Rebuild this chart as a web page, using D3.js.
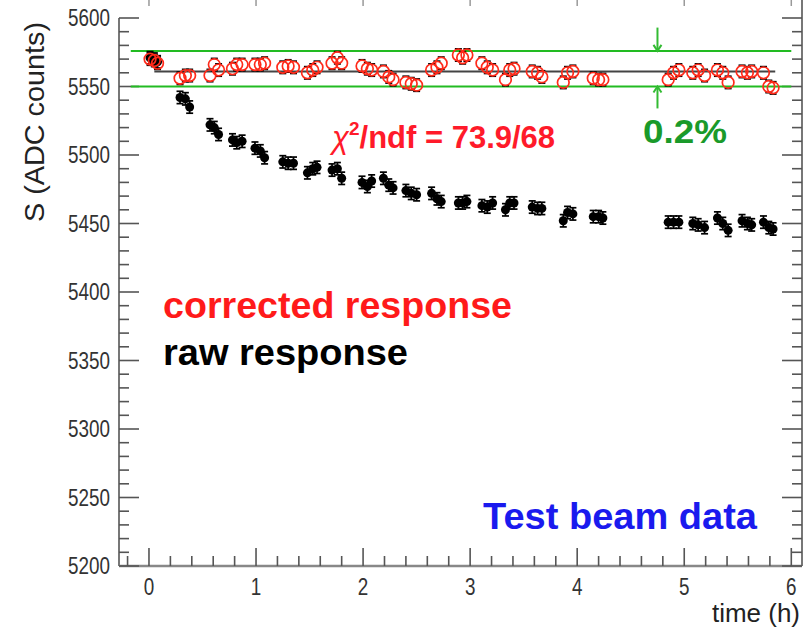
<!DOCTYPE html>
<html>
<head>
<meta charset="utf-8">
<script src="https://cdn.jsdelivr.net/npm/d3@7/dist/d3.min.js"></script>
<style>
  body { margin: 0; background: #fff; }
  text { font-family: "Liberation Sans", Arial, Helvetica, sans-serif; }
</style>
</head>
<body>
<svg id="chart" width="803" height="631"></svg>
<script>
// ---- data ----
var times = [
  0.01, 0.05, 0.08,  0.29, 0.34, 0.38,  0.57, 0.61, 0.65,  0.78, 0.82, 0.87,
  0.99, 1.04, 1.08,  1.25, 1.30, 1.35,  1.48, 1.53, 1.57,  1.71, 1.76, 1.80,
  1.99, 2.04, 2.08,  2.19, 2.24, 2.28,  2.40, 2.45, 2.50,  2.64, 2.69, 2.73,
  2.89, 2.93, 2.97,  3.11, 3.16, 3.21,  3.33, 3.37, 3.41,  3.58, 3.63, 3.67,
  3.87, 3.91, 3.96,  4.15, 4.20, 4.24,  4.85, 4.90, 4.95,  5.08, 5.13, 5.19,
  5.31, 5.36, 5.41,  5.54, 5.59, 5.63,  5.74, 5.79, 5.83
];
var rawValues = [
  5571, 5570, 5568,  5542, 5541, 5535,  5522, 5520, 5515,  5511, 5509, 5510,
  5505, 5503, 5498,  5495, 5494, 5494,  5487, 5490, 5491,  5489, 5490, 5483,
  5480, 5477, 5481,  5483, 5478, 5476,  5474, 5472, 5471,  5472, 5468, 5466,
  5465, 5465, 5466,  5463, 5462, 5465,  5460, 5465, 5465,  5462, 5461, 5461,
  5452, 5458, 5457,  5455, 5455, 5454,  5451, 5451, 5451,  5450, 5449, 5447,
  5454, 5450, 5445,  5452, 5450, 5449,  5451, 5447, 5446
];
var correctedValues = [
  5570, 5569, 5567,  5556, 5558, 5558,  5558, 5566, 5562,  5563, 5566, 5566,
  5566, 5566, 5567,  5564, 5565, 5564,  5560, 5562, 5564,  5567, 5571, 5567,
  5565, 5563, 5562,  5561, 5557, 5555,  5553, 5552, 5551,  5562, 5564, 5567,
  5573, 5571, 5573,  5567, 5564, 5562,  5555, 5562, 5563,  5561, 5560, 5557,
  5553, 5560, 5561,  5556, 5555, 5555,  5555, 5560, 5562,  5560, 5562, 5558,
  5562, 5560, 5553,  5561, 5560, 5561,  5560, 5550, 5549
];
var errorSize = 4.5;
var xTicks = [0, 1, 2, 3, 4, 5, 6];
var yTicks = [5200, 5250, 5300, 5350, 5400, 5450, 5500, 5550, 5600];
var bandLevels = [5576, 5550];
var fitLevel = 5561;
var fitRange = [0.05, 5.85];
var bandRange = [-0.17, 6.0];
var arrowTime = 4.75;
var arrowsFromTo = [[5593, 5576], [5534, 5550]];

/* ---- layout ---- */
var svg = d3.select('#chart');
var plotLeft = 119, plotRight = 802, plotTop = 18, plotBottom = 566;
var x = d3.scaleLinear().domain([-0.28, 6.1]).range([plotLeft, plotRight]);
var y = d3.scaleLinear().domain([5200, 5600]).range([plotBottom, plotTop]);

var rawData = times.map(function(t, i) { return { t: t, v: rawValues[i] }; });
var corrData = times.map(function(t, i) { return { t: t, v: correctedValues[i] }; });

var axisColor = '#555';

// axis lines
svg.append('line').attr('x1', plotLeft).attr('x2', plotLeft).attr('y1', plotTop).attr('y2', plotBottom)
  .attr('stroke', '#777').attr('stroke-width', 2);
svg.append('line').attr('x1', plotLeft).attr('x2', plotRight).attr('y1', plotBottom).attr('y2', plotBottom)
  .attr('stroke', '#888').attr('stroke-width', 2.5);
svg.append('line').attr('x1', plotRight).attr('x2', plotRight).attr('y1', 0).attr('y2', plotBottom)
  .attr('stroke', '#777').attr('stroke-width', 2);

// y ticks (left and right)
var yMinor = d3.range(5200, 5601, 10).filter(function(v) { return v % 50 !== 0; });
var tickG = svg.append('g').attr('stroke', axisColor).attr('stroke-width', 1.6);
tickG.selectAll('.ymaj').data(yTicks).enter().append('line')
  .attr('x1', plotLeft).attr('x2', plotLeft + 20)
  .attr('y1', function(d) { return y(d); }).attr('y2', function(d) { return y(d); });
tickG.selectAll('.ymin').data(yMinor).enter().append('line')
  .attr('x1', plotLeft).attr('x2', plotLeft + 10)
  .attr('y1', function(d) { return y(d); }).attr('y2', function(d) { return y(d); });
tickG.selectAll('.ymajr').data(yTicks).enter().append('line')
  .attr('x1', plotRight).attr('x2', plotRight - 20)
  .attr('y1', function(d) { return y(d); }).attr('y2', function(d) { return y(d); });
tickG.selectAll('.yminr').data(yMinor).enter().append('line')
  .attr('x1', plotRight).attr('x2', plotRight - 10)
  .attr('y1', function(d) { return y(d); }).attr('y2', function(d) { return y(d); });

// x ticks
var xMinor = d3.range(-0.2, 6.05, 0.2).filter(function(v) { return Math.abs(v - Math.round(v)) > 0.01; });
tickG.selectAll('.xmaj').data(xTicks).enter().append('line')
  .attr('x1', function(d) { return x(d); }).attr('x2', function(d) { return x(d); })
  .attr('y1', plotBottom).attr('y2', plotBottom - 18);
tickG.selectAll('.xmin').data(xMinor).enter().append('line')
  .attr('x1', function(d) { return x(d); }).attr('x2', function(d) { return x(d); })
  .attr('y1', plotBottom).attr('y2', plotBottom - 10);
svg.append('g').attr('stroke', '#999').attr('stroke-width', 1.5)
  .selectAll('line').data(xTicks).enter().append('line')
  .attr('x1', function(d) { return x(d); }).attr('x2', function(d) { return x(d); })
  .attr('y1', 0).attr('y2', 6);

// tick labels (tall, narrow look of the original)
svg.append('g').selectAll('text').data(yTicks).enter().append('text')
  .attr('transform', function(d) { return 'translate(110,' + (y(d) + 8) + ') scale(0.82,1)'; })
  .attr('text-anchor', 'end').attr('font-size', 23).attr('fill', '#333')
  .text(function(d) { return d; });
svg.append('g').selectAll('text').data(xTicks).enter().append('text')
  .attr('transform', function(d) { return 'translate(' + x(d) + ',595) scale(0.82,1)'; })
  .attr('text-anchor', 'middle').attr('font-size', 23).attr('fill', '#333')
  .text(function(d) { return d; });

// axis titles
svg.append('text').attr('transform', 'translate(44,222) rotate(-90)')
  .attr('font-size', 28).attr('fill', '#222')
  .attr('textLength', 200).attr('lengthAdjust', 'spacingAndGlyphs')
  .text('S (ADC counts)');
svg.append('text').attr('x', 800).attr('y', 622).attr('text-anchor', 'end')
  .attr('font-size', 26).attr('fill', '#222')
  .attr('textLength', 88).attr('lengthAdjust', 'spacingAndGlyphs')
  .text('time (h)');

/* ---- band and fit lines ---- */
svg.append('g').selectAll('line').data(bandLevels).enter().append('line')
  .attr('x1', x(bandRange[0])).attr('x2', x(bandRange[1]))
  .attr('y1', function(d) { return y(d); }).attr('y2', function(d) { return y(d); })
  .attr('stroke', '#22bb22').attr('stroke-width', 2);
svg.append('line')
  .attr('x1', x(fitRange[0])).attr('x2', x(fitRange[1]))
  .attr('y1', y(fitLevel)).attr('y2', y(fitLevel))
  .attr('stroke', '#444').attr('stroke-width', 2);

// arrows
var arrowG = svg.append('g').attr('stroke', '#33bb33').attr('stroke-width', 2).attr('fill', 'none');
arrowsFromTo.forEach(function(a) {
  var ax = x(arrowTime), y0 = y(a[0]), y1 = y(a[1]);
  var dir = y1 > y0 ? -1 : 1;
  arrowG.append('line').attr('x1', ax).attr('x2', ax).attr('y1', y0).attr('y2', y1);
  arrowG.append('path').attr('d', 'M' + (ax - 4) + ',' + (y1 + dir * 6) + 'L' + ax + ',' + y1 + 'L' + (ax + 4) + ',' + (y1 + dir * 6));
});

/* ---- data points ---- */
function errorBars(g, data, gap) {
  var bars = g.selectAll('g').data(data).enter().append('g')
    .attr('stroke', '#000').attr('stroke-width', 1.7);
  bars.append('line')
    .attr('x1', function(d) { return x(d.t); }).attr('x2', function(d) { return x(d.t); })
    .attr('y1', function(d) { return y(d.v + errorSize); }).attr('y2', function(d) { return y(d.v) - gap; });
  bars.append('line')
    .attr('x1', function(d) { return x(d.t); }).attr('x2', function(d) { return x(d.t); })
    .attr('y1', function(d) { return y(d.v) + gap; }).attr('y2', function(d) { return y(d.v - errorSize); });
  [errorSize, -errorSize].forEach(function(e) {
    bars.append('line')
      .attr('x1', function(d) { return x(d.t) - 3.5; }).attr('x2', function(d) { return x(d.t) + 3.5; })
      .attr('y1', function(d) { return y(d.v + e); }).attr('y2', function(d) { return y(d.v + e); });
  });
}

var rawG = svg.append('g');
errorBars(rawG, rawData, 0);
rawG.selectAll('circle').data(rawData).enter().append('circle')
  .attr('cx', function(d) { return x(d.t); }).attr('cy', function(d) { return y(d.v); })
  .attr('r', 4.5).attr('fill', '#000');

var corrG = svg.append('g');
errorBars(corrG, corrData, 6);
corrG.selectAll('circle').data(corrData).enter().append('circle')
  .attr('cx', function(d) { return x(d.t); }).attr('cy', function(d) { return y(d.v); })
  .attr('r', 5.8).attr('fill', 'none').attr('stroke', '#ff2a1a').attr('stroke-width', 1.7);

/* ---- annotations ---- */
var chi = svg.append('text').attr('x', 332).attr('y', 148)
  .attr('font-size', 31).attr('font-weight', 'bold').attr('fill', '#ff1a2a');
chi.append('tspan').attr('font-style', 'italic').attr('font-weight', 'normal').text('\u03c7');
chi.append('tspan').attr('font-size', 19).attr('dy', -13).text('2');
chi.append('tspan').attr('dy', 13).text('/ndf = 73.9/68');

svg.append('text').attr('x', 643).attr('y', 143)
  .attr('font-size', 34).attr('font-weight', 'bold').attr('fill', '#1a9a2a')
  .attr('textLength', 84).attr('lengthAdjust', 'spacingAndGlyphs')
  .text('0.2%');

svg.append('text').attr('x', 163).attr('y', 318)
  .attr('font-size', 37).attr('font-weight', 'bold').attr('fill', '#ff1a1a')
  .attr('textLength', 349).attr('lengthAdjust', 'spacingAndGlyphs')
  .text('corrected response');
svg.append('text').attr('x', 163).attr('y', 365)
  .attr('font-size', 37).attr('font-weight', 'bold').attr('fill', '#000')
  .attr('textLength', 245).attr('lengthAdjust', 'spacingAndGlyphs')
  .text('raw response');
svg.append('text').attr('x', 483).attr('y', 529)
  .attr('font-size', 37).attr('font-weight', 'bold').attr('fill', '#1a1aee')
  .attr('textLength', 274).attr('lengthAdjust', 'spacingAndGlyphs')
  .text('Test beam data');
</script>
</body>
</html>
